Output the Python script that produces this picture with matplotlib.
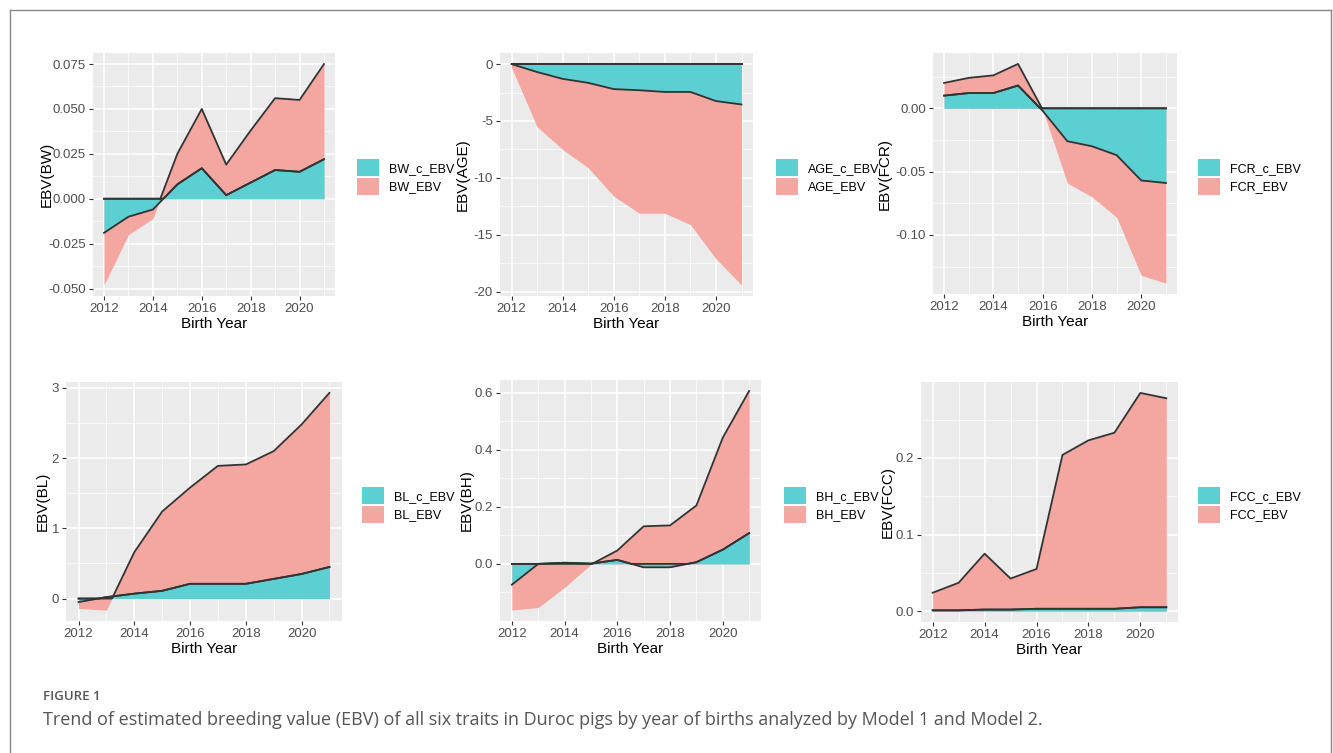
import numpy as np
import matplotlib
matplotlib.use("Agg")
import matplotlib.pyplot as plt
from matplotlib.patches import Patch
from matplotlib.lines import Line2D

plt.rcParams['font.family'] = ['Liberation Sans', 'DejaVu Sans']

years = np.arange(2012, 2022)

bw_ebv = [-0.048, -0.020, -0.011, 0.025, 0.050, 0.019, 0.038, 0.056, 0.055, 0.075]
bw_c_ebv = [-0.019, -0.010, -0.006, 0.008, 0.017, 0.002, 0.009, 0.016, 0.015, 0.022]

age_ebv = [-0.3, -5.5, -7.5, -9.1, -11.6, -13.1, -13.1, -14.1, -17.1, -19.4]
age_c_ebv = [0.0, -0.7, -1.3, -1.65, -2.2, -2.3, -2.45, -2.45, -3.25, -3.55]

fcr_ebv = [0.020, 0.024, 0.026, 0.035, -0.001, -0.059, -0.070, -0.086, -0.132, -0.138]
fcr_c_ebv = [0.010, 0.012, 0.012, 0.018, -0.002, -0.026, -0.030, -0.037, -0.057, -0.059]

bl_ebv = [-0.14, -0.165, 0.66, 1.24, 1.58, 1.89, 1.91, 2.10, 2.48, 2.93]
bl_c_ebv = [-0.05, 0.02, 0.07, 0.11, 0.21, 0.21, 0.21, 0.28, 0.35, 0.45]

bh_ebv = [-0.162, -0.153, -0.082, -0.002, 0.047, 0.132, 0.135, 0.205, 0.443, 0.607]
bh_c_ebv = [-0.073, 0.0, 0.004, 0.001, 0.014, -0.012, -0.012, 0.006, 0.050, 0.108]

fcc_ebv = [0.024, 0.037, 0.075, 0.0425, 0.055, 0.204, 0.223, 0.233, 0.285, 0.278]
fcc_c_ebv = [0.001, 0.001, 0.002, 0.002, 0.003, 0.003, 0.003, 0.003, 0.005, 0.005]

panels = [
    ("BW", bw_ebv, bw_c_ebv, [-0.05, -0.025, 0, 0.025, 0.05, 0.075], "{:.3f}"),
    ("AGE", age_ebv, age_c_ebv, [-20, -15, -10, -5, 0], "{:.0f}"),
    ("FCR", fcr_ebv, fcr_c_ebv, [-0.10, -0.05, 0.0], "{:.2f}"),
    ("BL", bl_ebv, bl_c_ebv, [0, 1, 2, 3], "{:.0f}"),
    ("BH", bh_ebv, bh_c_ebv, [0.0, 0.2, 0.4, 0.6], "{:.1f}"),
    ("FCC", fcc_ebv, fcc_c_ebv, [0.0, 0.1, 0.2], "{:.1f}"),
]

# panel boxes in pixels: left, top, right, bottom ; legend x, legend y-center ; ylabel right edge x
boxes = [
    (93, 53, 335, 296, 357, 177, 54),
    (500, 53, 753, 296, 776, 177, 470),
    (933, 53, 1177, 294, 1198, 177, 892),
    (66, 382, 342, 621, 362, 505, 50),
    (500, 380, 761, 621, 784, 505, 474),
    (921, 382, 1178, 622, 1198, 505, 895),
]

PINK = "#F4A6A0"
TEAL = "#5CCFD2"
LINE = "#333333"
W, H = 1333, 753


def with_zero_crossings(x, y):
    xs, ys = [x[0]], [y[0]]
    for i in range(1, len(x)):
        y0, y1 = y[i - 1], y[i]
        if y0 * y1 < 0:
            t = y0 / (y0 - y1)
            xs.append(x[i - 1] + t * (x[i] - x[i - 1]))
            ys.append(0.0)
        xs.append(x[i])
        ys.append(y[i])
    return np.array(xs), np.array(ys)


fig = plt.figure(figsize=(W / 100, H / 100), dpi=100)
fig.patch.set_facecolor("white")

# outer frame
fig.add_artist(Line2D([10 / W, 1331 / W], [1 - 10 / H, 1 - 10 / H], color="#888888", lw=1.0))
fig.add_artist(Line2D([10 / W, 10 / W], [1 - 10 / H, 0], color="#888888", lw=1.0))
fig.add_artist(Line2D([1331 / W, 1331 / W], [1 - 10 / H, 0], color="#888888", lw=1.0))

for (name, ebv, cebv, yticks, fmt), (l, t, r, b, lx, ly, ylx) in zip(panels, boxes):
    ax = fig.add_axes([l / W, 1 - b / H, (r - l) / W, (b - t) / H])
    ax.set_facecolor("#EBEBEB")
    ebv = np.array(ebv, dtype=float)
    cebv = np.array(cebv, dtype=float)

    ax.fill_between(years, 0, ebv, color=PINK, lw=0, zorder=2)
    ax.fill_between(years, 0, cebv, color=TEAL, lw=0, zorder=3)

    xp, yp = with_zero_crossings(years, ebv)
    ax.plot(xp, np.maximum(yp, 0), color=LINE, lw=1.3, zorder=4)
    xc, yc = with_zero_crossings(years, cebv)
    ax.plot(xc, np.maximum(yc, 0), color=LINE, lw=1.3, zorder=4)
    ax.plot(years, cebv, color=LINE, lw=1.3, zorder=4)

    lo = min(ebv.min(), cebv.min(), 0)
    hi = max(ebv.max(), cebv.max(), 0)
    pad = (hi - lo) * 0.05

    ax.set_xticks([2012, 2014, 2016, 2018, 2020])
    ax.set_xticks([2013, 2015, 2017, 2019, 2021], minor=True)
    ax.set_yticks(yticks)
    ax.set_yticklabels([fmt.format(v) for v in yticks])
    step = yticks[1] - yticks[0]
    mids = [yticks[0] - step / 2] + [v + step / 2 for v in yticks]
    ax.set_yticks(mids, minor=True)
    ax.set_ylim(lo - pad, hi + pad)
    ax.set_xlim(2012 - 0.45, 2021 + 0.45)

    ax.grid(which="major", color="white", lw=1.1, zorder=1)
    ax.grid(which="minor", color="white", lw=0.5, zorder=1)
    ax.set_axisbelow(True)
    for s in ax.spines.values():
        s.set_visible(False)
    ax.tick_params(which="major", length=3, width=0.8, color="#333333",
                   labelsize=9.5, labelcolor="#4D4D4D", pad=2)
    ax.tick_params(which="minor", length=0)
    ax.set_xlabel("Birth Year", fontsize=11, labelpad=1.5)
    ax.yaxis.set_label_coords((ylx - l) / (r - l), 0.5)
    ax.set_ylabel("EBV(%s)" % name, fontsize=11)

    handles = [Patch(facecolor=TEAL, edgecolor="none"), Patch(facecolor=PINK, edgecolor="none")]
    ax.legend(handles, ["%s_c_EBV" % name, "%s_EBV" % name],
              loc="center left", bbox_to_anchor=(lx / W, 1 - ly / H),
              bbox_transform=fig.transFigure, frameon=False, fontsize=9,
              handlelength=1.75, handleheight=1.75, handletextpad=0.8,
              labelspacing=0.12, borderaxespad=0, borderpad=0)

fig.text(43 / W, 1 - 697 / H, "FIGURE 1", fontsize=9.5, color="#555555",
         fontfamily="Open Sans", fontweight="semibold", va="center", ha="left")
fig.text(43 / W, 1 - 720 / H,
         "Trend of estimated breeding value (EBV) of all six traits in Duroc pigs "
         "by year of births analyzed by Model 1 and Model 2.",
         fontsize=13, color="#555555", fontfamily="Open Sans", va="center", ha="left")

fig.savefig("out.png", dpi=100)
